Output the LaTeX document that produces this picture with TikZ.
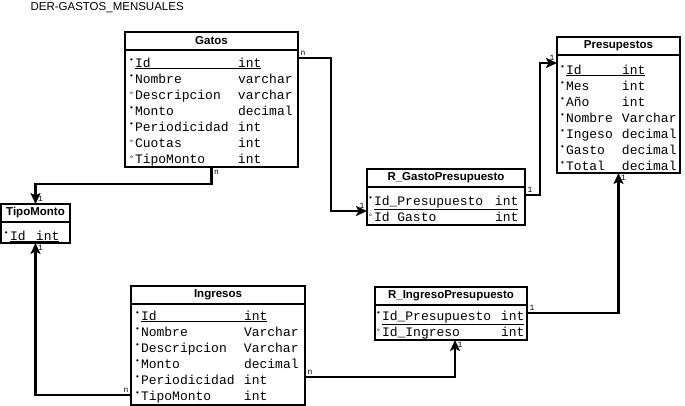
\documentclass[tikz,border=0pt]{standalone}
\usepackage{fontspec}
\setmainfont{Liberation Sans}
\newfontfamily\mono{Liberation Mono}
\usetikzlibrary{arrows.meta, positioning}

% marcas de campo y filas
\newcommand{\lleno}{\makebox[6pt][l]{\raisebox{5pt}{\fontsize{8}{8}\selectfont\textbullet}}}
\newcommand{\vacio}{\makebox[6pt][l]{\raisebox{2pt}{\fontsize{8}{8}\selectfont\textdegree}}}
\newcommand{\fila}[4]{#1\makebox[#2][l]{#3}#4}
\newcommand{\filapk}[4]{#1\underline{\makebox[#2][l]{#3}#4}}

\begin{document}
\begin{tikzpicture}[x=1pt, y=1pt,
    tabla/.style={draw, line width=2.4pt, outer sep=0pt, inner sep=0pt, minimum height=18pt, anchor=north west, font=\bfseries\fontsize{11.5}{12}\selectfont},
    cuerpo/.style={draw, line width=2.4pt, outer sep=0pt, inner ysep=0pt, align=left, font=\mono\fontsize{13}{16}\selectfont},
    rel/.style={line width=2.4pt, -{Stealth[length=11pt, width=10pt, inset=2.5pt]}},
    card/.style={font=\mono\fontsize{8}{8}\selectfont, inner sep=1.5pt}]

    \useasboundingbox (0,0) rectangle (685,-405);

    % Titulo
    \node (titulo) [anchor=west, font=\fontsize{11.5}{12}\selectfont] at (27,-8) {DER-GASTOS\_MENSUALES};

    % Definir nodos para tablas
    \node (gatosT) [tabla, minimum width=173pt] at (125,-32) {Gatos};
    \node (gatos) [cuerpo, below=0pt of gatosT, inner xsep=4pt, text width=165pt] {\rule{0pt}{17pt}\filapk{\lleno}{103pt}{Id}{int}\\
        \fila{\lleno}{103pt}{Nombre}{varchar}\\
        \fila{\vacio}{103pt}{Descripcion}{varchar}\\
        \fila{\lleno}{103pt}{Monto}{decimal}\\
        \fila{\lleno}{103pt}{Periodicidad}{int}\\
        \fila{\vacio}{103pt}{Cuotas}{int}\\
        \fila{\vacio}{103pt}{TipoMonto}{int}\rule[-4pt]{0pt}{4pt}};

    \node (presupT) [tabla, minimum width=123pt] at (557,-37) {Presupestos};
    \node (presup) [cuerpo, below=0pt of presupT, inner xsep=3pt, text width=117pt] {\rule{0pt}{19pt}\filapk{\lleno}{56pt}{Id}{int}\\
        \fila{\lleno}{56pt}{Mes}{int}\\
        \fila{\lleno}{56pt}{Año}{int}\\
        \fila{\lleno}{56pt}{Nombre}{Varchar}\\
        \fila{\lleno}{56pt}{Ingeso}{decimal}\\
        \fila{\lleno}{56pt}{Gasto}{decimal}\\
        \fila{\lleno}{56pt}{Total}{decimal}\rule[-3pt]{0pt}{3pt}};

    \node (tipoT) [tabla, minimum width=69pt] at (1,-204) {TipoMonto};
    \node (tipo) [cuerpo, below=0pt of tipoT, inner xsep=3pt, text width=63pt] {\rule{0pt}{18pt}\filapk{\lleno}{26pt}{Id}{int}\rule[-3pt]{0pt}{3pt}};

    \node (ingT) [tabla, minimum width=174pt] at (131,-286) {Ingresos};
    \node (ingresos) [cuerpo, below=0pt of ingT, inner xsep=4pt, text width=166pt] {\rule{0pt}{16pt}\filapk{\lleno}{103pt}{Id}{int}\\
        \fila{\lleno}{103pt}{Nombre}{Varchar}\\
        \fila{\lleno}{103pt}{Descripcion}{Varchar}\\
        \fila{\lleno}{103pt}{Monto}{decimal}\\
        \fila{\lleno}{103pt}{Periodicidad}{int}\\
        \fila{\lleno}{103pt}{TipoMonto}{int}\rule[-5pt]{0pt}{5pt}};

    \node (rgastoT) [tabla, minimum width=158pt] at (367,-169) {R\_GastoPresupuesto};
    \node (rgasto) [cuerpo, below=0pt of rgastoT, inner xsep=1pt, text width=156pt] {\rule{0pt}{18pt}\filapk{\lleno}{121pt}{Id\_Presupuesto}{int}\\
        \fila{\vacio}{121pt}{Id\hspace{0.6em}Gasto}{int}\rule[-4pt]{0pt}{4pt}};

    \node (ringT) [tabla, minimum width=152pt] at (375,-287) {R\_IngresoPresupuesto};
    \node (ringreso) [cuerpo, below=0pt of ringT, inner xsep=1pt, text width=150pt] {\rule{0pt}{15pt}\filapk{\lleno}{119pt}{Id\_Presupuesto}{int}\\
        \fila{\vacio}{119pt}{Id\_Ingreso}{int}\rule[-4pt]{0pt}{4pt}};

    % Dibujar relaciones
    \draw[rel] ([yshift=-8pt]gatos.north east) node[card, above right] {n} -- ++(33,0) |- ([yshift=14pt]rgasto.south west) node[card, above left] {1};
    \draw[rel] ([yshift=-8pt]rgasto.north east) node[card, above right] {1} -- ++(15,0) |- ([yshift=-8pt]presup.north west) node[card, above left] {1};
    \draw[rel] (gatos.south) node[card, below right] {n} -- ++(0,-17) -| (tipoT.north) node[card, above right] {1};
    \draw[rel] ([yshift=10pt]ingresos.south west) node[card, above left] {n} -| (tipo.south) node[card, below right] {1};
    \draw[rel] ([yshift=28pt]ingresos.south east) node[card, above right] {n} -| ([xshift=4pt]ringreso.south) node[card, below right] {1};
    \draw[rel] ([yshift=-8pt]ringreso.north east) node[card, above right] {1} -| (presup.south) node[card, below right] {1};
\end{tikzpicture}
\end{document}
